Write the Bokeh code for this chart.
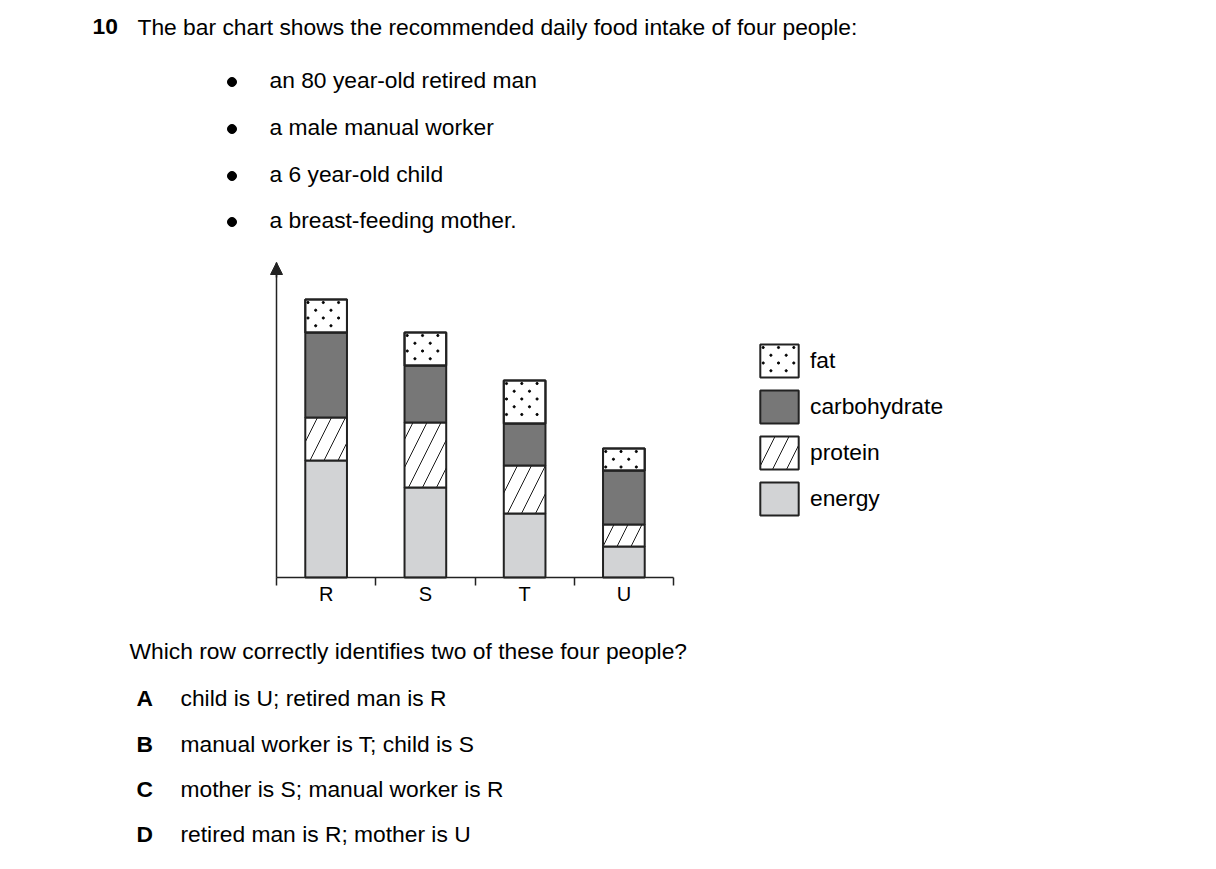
from bokeh.plotting import figure
from bokeh.models import (Range1d, LinearAxis, FixedTicker, Arrow, NormalHead,
                          Legend, LegendItem, ColumnDataSource)
from bokeh.core.properties import value
from bokeh.transform import stack
from bokeh.embed import file_html
from bokeh.resources import INLINE

people = ["R", "S", "T", "U"]
nutrients = ["energy", "protein", "carbohydrate", "fat"]
energy = [117, 90, 64, 31]
protein = [43, 65, 48, 22]
carbohydrate = [85, 57, 42, 54]
fat = [33, 33, 43, 22]

number = "10"
intro = "The bar chart shows the recommended daily food intake of four people:"
bullets = ["an 80 year-old retired man", "a male manual worker",
           "a 6 year-old child", "a breast-feeding mother."]
prompt = "Which row correctly identifies two of these four people?"
letters = ["A", "B", "C", "D"]
answers = ["child is U; retired man is R", "manual worker is T; child is S",
           "mother is S; manual worker is R", "retired man is R; mother is U"]

FONT = "Liberation Sans"
SIZE = "22.8px"
INK = "#222222"
W, H = 1210, 862

# the page: one figure whose frame is the whole canvas, in pixel units (y down)
p = figure(width=W, height=H, x_range=Range1d(0, W), y_range=Range1d(H, 0),
           output_backend="svg", toolbar_location=None,
           x_axis_location=None, y_axis_location=None, min_border=0)
p.grid.visible = False
p.outline_line_color = None

# chart scales: x 0..4 between page x 276 and 673, y 1 unit per pixel up from page y 577
left_px, right_px, base_px = 276, 673, 577
ymax = 315
k = len(people) / (right_px - left_px)
p.extra_x_ranges = {"cx": Range1d(-left_px * k, len(people) + (W - right_px) * k)}
p.extra_y_ranges = {"cy": Range1d(-(H - base_px), base_px)}


def write(x, y, txt, bold=False):
    p.text(x=x, y=y, text=txt, text_font=value(FONT), text_font_size=value(SIZE),
           text_font_style="bold" if bold else "normal", text_color="black",
           text_baseline="middle", text_align="left")


def dot_grid(x0, x1, y_top, y_bottom, sx, sy):
    # staggered dot texture inside a box; sx, sy = units per pixel (sy signed)
    xs, ys = [], []
    row = 0
    yy = y_top + 3 * sy
    while (yy - y_bottom) * sy < -2:
        xx = x0 + (2.7 + 7.7 * (row % 2)) * sx
        while xx < x1 - 1.5 * sx:
            xs.append(xx)
            ys.append(yy)
            xx += 15.3 * sx
        yy += 7.75 * sy
        row += 1
    return xs, ys


# question text
write([92], [26], [number], bold=True)
write([137], [26], [intro])
bullet_mid = [79, 126, 173, 219]
p.scatter(x=[231.5] * len(bullets), y=[b + 2.5 for b in bullet_mid], size=9,
          color="black")
write([269] * len(bullets), bullet_mid, bullets)

# stacked bars
src = ColumnDataSource(dict(x=[i + 0.5 for i in range(len(people))], person=people,
                            energy=energy, protein=protein,
                            carbohydrate=carbohydrate, fat=fat))
rs = p.vbar_stack(nutrients, x="x", width=0.42, source=src,
                  x_range_name="cx", y_range_name="cy",
                  fill_color=["#d2d3d5", "white", "#777777", "white"],
                  hatch_pattern=[" ", "/", " ", " "],
                  hatch_scale=28, hatch_weight=1, hatch_color="#1a1a1a",
                  line_color=INK, line_width=2)

# dotted texture of the fat segments
dot_x, dot_y = [], []
for i in range(len(people)):
    bottom = energy[i] + protein[i] + carbohydrate[i]
    xs, ys = dot_grid(i + 0.5 - 0.21, i + 0.5 + 0.21, bottom + fat[i], bottom, k, -1)
    dot_x += xs
    dot_y += ys
p.scatter(dot_x, dot_y, size=2.2, color="black", x_range_name="cx", y_range_name="cy")

# outline-only copy of the fat segments, used for the legend swatch
fat_outline = p.vbar(x="x", width=0.42, source=src,
                     bottom=stack(*nutrients[:3]), top=stack(*nutrients),
                     x_range_name="cx", y_range_name="cy",
                     fill_alpha=0, line_color=INK, line_width=2)

xaxis = LinearAxis(x_range_name="cx", y_range_name="cy", fixed_location=0,
                   bounds=(0, len(people)),
                   ticker=FixedTicker(ticks=[i + 0.5 for i in range(len(people))],
                                      minor_ticks=list(range(len(people) + 1))),
                   major_label_overrides={i + 0.5: name for i, name in enumerate(people)},
                   major_tick_line_color=None, major_tick_out=0, major_tick_in=0,
                   minor_tick_out=8, minor_tick_in=0, minor_tick_line_color=INK,
                   minor_tick_line_width=1.5, axis_line_color=INK, axis_line_width=1.5,
                   major_label_text_font=FONT, major_label_text_font_size="20px",
                   major_label_text_color="black", major_label_standoff=-3)
p.add_layout(xaxis, "below")

yaxis = LinearAxis(x_range_name="cx", y_range_name="cy", fixed_location=0,
                   bounds=(0, ymax), ticker=FixedTicker(ticks=[]),
                   major_label_text_font_size="0px",
                   major_tick_line_color=None, minor_tick_line_color=None,
                   axis_line_color=INK, axis_line_width=1.5)
p.add_layout(yaxis, "left")

p.add_layout(Arrow(end=NormalHead(size=12, fill_color=INK, line_color=INK, line_width=1),
                   x_range_name="cx", y_range_name="cy",
                   x_start=0, y_start=ymax - 15, x_end=0, y_end=ymax,
                   line_color=INK, line_width=1.5))

# legend (swatches are drawn inset by 10% of the glyph box)
sw_x, sw_y = dot_grid(760, 798, 344, 378, 1, 1)
p.scatter(sw_x, sw_y, size=2.2, color="black")
legend_renderers = [fat_outline, rs[2], rs[1], rs[0]]
legend = Legend(items=[LegendItem(label=n, renderers=[r])
                       for n, r in zip(reversed(nutrients), legend_renderers)],
                location=(755, H - 519), orientation="vertical",
                glyph_width=48, glyph_height=41, spacing=5, padding=0, margin=0,
                label_standoff=7, label_height=41,
                border_line_color=None, background_fill_alpha=0,
                label_text_font=FONT, label_text_font_size=SIZE, label_text_color="black")
p.add_layout(legend, "center")

# answer options
write([129], [650], [prompt])
opt_mid = [697, 743, 788, 833]
write([136] * len(letters), opt_mid, letters, bold=True)
write([180] * len(answers), opt_mid, answers)

open("out.html", "w").write(file_html(p, INLINE))
